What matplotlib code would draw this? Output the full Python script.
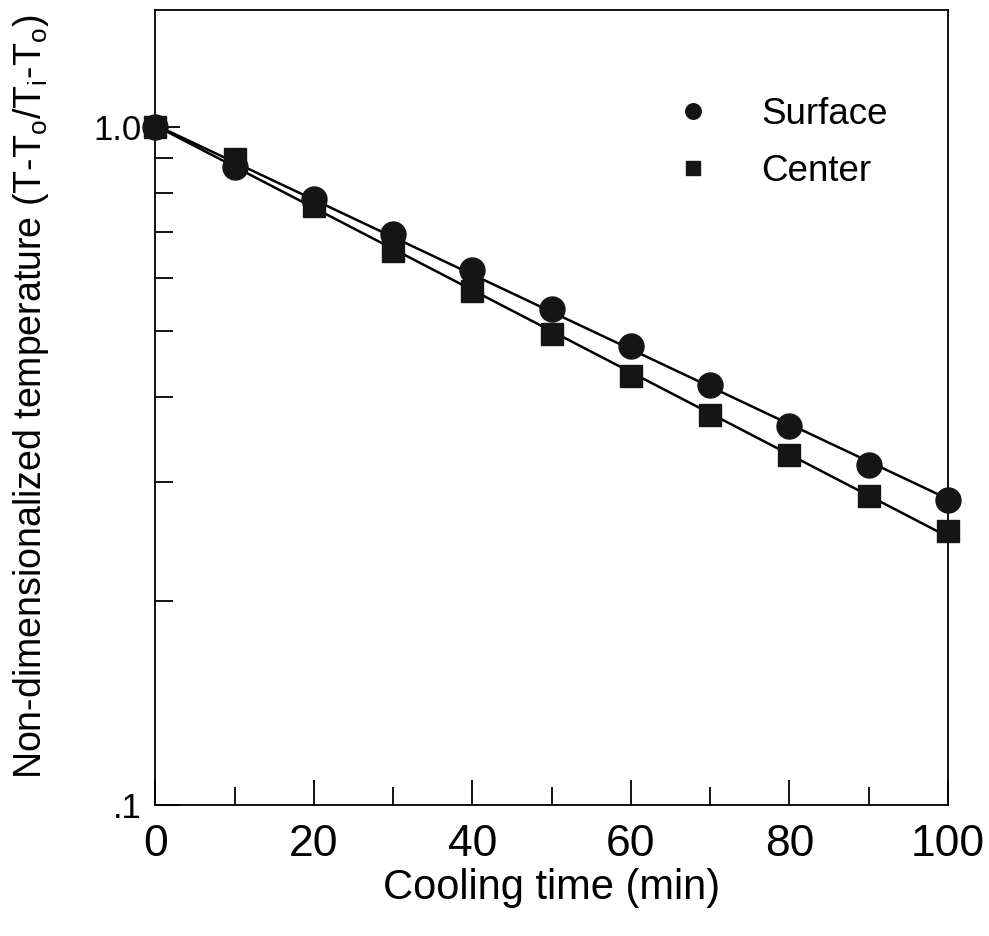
import numpy as np
import matplotlib.pyplot as plt
from matplotlib.ticker import FixedLocator, NullFormatter, FixedFormatter

plt.rcParams['font.family'] = ['Liberation Sans', 'DejaVu Sans']
plt.rcParams['mathtext.fontset'] = 'custom'
plt.rcParams['mathtext.rm'] = 'Liberation Sans'
plt.rcParams['mathtext.it'] = 'Liberation Sans'

time_min = [0, 10, 20, 30, 40, 50, 60, 70, 80, 90, 100]
surface = [1.0, 0.873, 0.783, 0.695, 0.615, 0.539, 0.475, 0.416, 0.362, 0.317, 0.282]
center = [1.0, 0.897, 0.765, 0.656, 0.573, 0.495, 0.429, 0.376, 0.328, 0.286, 0.254]

fig = plt.figure(figsize=(9.89, 9.36), dpi=100)
ax = fig.add_axes([0.157, 0.14, 0.8015, 0.849])

t = np.array(time_min)
for vals in (surface, center):
    k, b = np.polyfit(t, np.log10(vals), 1)
    ax.plot(t, 10 ** (k * t + b), color='black', lw=1.8, zorder=2)

ax.plot(time_min, surface, 'o', color='#151515', ms=18, zorder=3, clip_on=False, label='Surface')
ax.plot(time_min, center, 's', color='#151515', ms=16, zorder=3, clip_on=False, label='Center')

ax.set_yscale('log')
ax.set_xlim(0, 100)
ax.set_ylim(0.1, 1.488)

ax.yaxis.set_major_locator(FixedLocator([0.1, 1.0]))
ax.yaxis.set_major_formatter(FixedFormatter(['.1', '1.0']))
ax.yaxis.set_minor_locator(FixedLocator([0.2, 0.3, 0.4, 0.5, 0.6, 0.7, 0.8, 0.9]))
ax.yaxis.set_minor_formatter(NullFormatter())
ax.set_xticks([0, 20, 40, 60, 80, 100])
ax.set_xticks([10, 30, 50, 70, 90], minor=True)

ax.tick_params(which='both', direction='in', top=False, right=False)
ax.tick_params(which='major', length=18, width=1.3)
ax.tick_params(which='minor', length=13, width=1.3)
ax.tick_params(axis='x', labelsize=32, pad=14)
ax.tick_params(axis='y', labelsize=25, pad=10)
for s in ax.spines.values():
    s.set_linewidth(1.3)

ax.set_xlabel('Cooling time (min)', fontsize=30, labelpad=2)
ax.set_ylabel(r'Non-dimensionalized temperature (T-T$_\mathregular{o}$/T$_\mathregular{i}$-T$_\mathregular{o}$)',
              fontsize=27)
ax.yaxis.set_label_coords(-0.132, 0.513)

ax.legend(loc='upper right', bbox_to_anchor=(0.966, 0.933), frameon=False, fontsize=26.5,
          markerscale=0.62, handletextpad=0.85, labelspacing=0.6)

fig.savefig('out.png', dpi=100)
